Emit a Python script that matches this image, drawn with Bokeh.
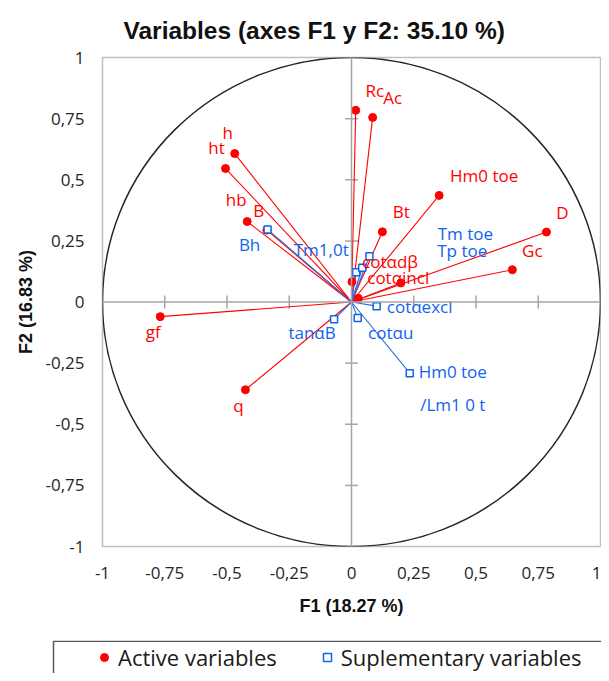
import math
from bokeh.plotting import figure
from bokeh.layouts import column
from bokeh.models import (Span, FixedTicker, CustomJSTickFormatter, Legend, LegendItem,
                          ColumnDataSource, Range1d)
from bokeh.embed import file_html
from bokeh.resources import INLINE
from bokeh.core.properties import value

# ---------------- data ----------------
active_names = ["Rc", "Ac", "h", "ht", "hb", "B", "Bt", "Hm0 toe", "D", "Gc",
                "gf", "q", "cotαdβ", "cotαincl", ""]
active_f1 = [0.017, 0.085, -0.469, -0.506, -0.419, -0.340, 0.124, 0.352, 0.783, 0.646,
             -0.768, -0.426, 0.002, 0.027, 0.198]
active_f2 = [0.784, 0.755, 0.607, 0.546, 0.329, 0.294, 0.287, 0.436, 0.286, 0.132,
             -0.060, -0.359, 0.083, 0.015, 0.078]

sup_names = ["Bh", "Tm1,0t", "Tm toe", "Tp toe", "cotαexcl", "tanαB", "cotαu",
             "Hm0 toe\n/Lm1 0 t"]
sup_f1 = [-0.337, 0.019, 0.072, 0.043, 0.101, -0.070, 0.025, 0.234]
sup_f2 = [0.297, 0.122, 0.187, 0.140, -0.017, -0.071, -0.065, -0.291]

tick_values = [-1, -0.75, -0.5, -0.25, 0, 0.25, 0.5, 0.75, 1]

title_text = "Variables (axes F1 y F2: 35.10 %)"
x_title = "F1 (18.27 %)"
y_title = "F2 (16.83 %)"
legend_labels = ["Active variables", "Suplementary variables"]

# ---------------- label placement (screen pixels, layout only) ----------------
active_dx = [19, 20, -7, -9, -11, -8, 19, 45, 16, 20, -7, -7, 38, 40, 0]
active_dy = [-20, -20, -21, -21, -22, -20, -20, -20, -20, -19, 15, 16, -20, -21, 0]
sup_dx = [-18, -35, 96, 100, 43, -22, 33, 43]
sup_dy = [15, -23, -23, -17, 0, 13, 15, 15]

RED = "#FF0000"
BLUE = "#0F63EE"
BLUE_LINE = "#2A6CE0"
LABEL_FONT = "Open Sans"
W = 601          # visible page width (609 window - 8px margin)
H_MAIN = 640
H_LEG = 33       # visible strip of the legend box

act = ColumnDataSource(dict(f1=active_f1, f2=active_f2, name=active_names,
                            dx=active_dx, dy=active_dy))
sup = ColumnDataSource(dict(f1=sup_f1, f2=sup_f2, name=sup_names,
                            dx=sup_dx, dy=sup_dy))

p = figure(width=W, height=H_MAIN, x_range=(-1, 1), y_range=(-1, 1),
           output_backend="svg", toolbar_location=None, tools="",
           min_border_left=102, min_border_right=1, min_border_top=56,
           min_border_bottom=94)

p.background_fill_color = "white"
p.border_fill_color = "white"
p.outline_line_color = "#BFBFBF"
p.outline_line_width = 1.5
p.grid.visible = False

# title
p.title.text = title_text
p.title.align = "left"
p.title.offset = 21
p.title.text_font = "Liberation Sans"
p.title.text_font_size = "24.5px"
p.title.text_font_style = "bold"
p.title.text_color = "#111111"
p.title.standoff = 28

# axes
for ax in (p.xaxis[0], p.yaxis[0]):
    ax.ticker = FixedTicker(ticks=tick_values)
    ax.formatter = CustomJSTickFormatter(code="return tick.toString().replace('.', ',');")
    ax.axis_line_color = None
    ax.major_tick_line_color = None
    ax.minor_tick_line_color = None
    ax.major_tick_out = 0
    ax.major_tick_in = 0
    ax.major_label_text_font = LABEL_FONT
    ax.major_label_text_font_size = "17px"
    ax.major_label_text_color = "#262626"
    ax.axis_label_text_font = "Liberation Sans"
    ax.axis_label_text_font_size = "18px"
    ax.axis_label_text_font_style = "bold"
    ax.axis_label_text_color = "#111111"

p.xaxis.axis_label = x_title
p.yaxis.axis_label = y_title
p.xaxis.major_label_standoff = 20
p.yaxis.major_label_standoff = 18
p.xaxis.axis_label_standoff = 14
p.yaxis.axis_label_standoff = 6

# center axes with cross ticks
p.add_layout(Span(location=0, dimension="height", line_color="#A6A6A6", line_width=1.5))
p.add_layout(Span(location=0, dimension="width", line_color="#A6A6A6", line_width=1.5))
inner_ticks = [t for t in tick_values if t not in (-1, 0, 1)]
p.scatter(x=[0] * len(inner_ticks), y=inner_ticks, marker="dash", size=13,
          line_color="#A6A6A6", line_width=1.5)
p.scatter(x=inner_ticks, y=[0] * len(inner_ticks), marker="dash", size=13,
          angle=math.pi / 2, line_color="#A6A6A6", line_width=1.5)

# correlation circle
p.ellipse(x=0, y=0, width=2, height=2, fill_color=None,
          line_color="#262626", line_width=1.5)

# vectors
p.segment(x0=0, y0=0, x1="f1", y1="f2", source=act, line_color=RED, line_width=1.1)
p.segment(x0=0, y0=0, x1="f1", y1="f2", source=sup, line_color=BLUE_LINE, line_width=1.1)

p.scatter(x="f1", y="f2", source=act, marker="circle", size=8,
          fill_color=RED, line_color=RED)
p.scatter(x="f1", y="f2", source=sup, marker="square", size=7,
          fill_color="white", line_color=BLUE, line_width=1.5)

p.text(x="f1", y="f2", text="name", source=act, x_offset="dx", y_offset="dy",
       text_align="center", text_baseline="middle", text_color=RED,
       text_font=value(LABEL_FONT), text_font_size="17px")
p.text(x="f1", y="f2", text="name", source=sup, x_offset="dx", y_offset="dy",
       text_align="center", text_baseline="middle", text_color=BLUE,
       text_font=value(LABEL_FONT), text_font_size="17px", text_line_height=1.45)

# ---------------- legend strip (box runs past the window edge, as in the reference) ----------------
lg = figure(width=W, height=H_LEG, x_range=Range1d(0, W), y_range=Range1d(H_LEG, 0),
            output_backend="svg", toolbar_location=None, tools="",
            x_axis_location=None, y_axis_location=None,
            min_border=0, min_border_left=0, min_border_right=0,
            min_border_top=0, min_border_bottom=0)
lg.grid.visible = False
lg.outline_line_color = None
lg.background_fill_color = "white"
lg.border_fill_color = "white"
for fig in (p, lg):
    if "frame_align" in fig.properties():
        fig.frame_align = False

# legend frame (drawn in the strip's pixel space)
lg.quad(left=[53], right=[W + 100], top=[0.75], bottom=[H_LEG + 100], fill_color=None,
        line_color="#595959", line_width=1.5)
# legend keys: same styled markers, renderers hidden in the strip
la = lg.scatter(x="f1", y="f2", source=act, marker="circle", size=8,
                fill_color=RED, line_color=RED, visible=False)
ls = lg.scatter(x="f1", y="f2", source=sup, marker="square", size=7,
                fill_color="white", line_color=BLUE, line_width=1.5, visible=False)
legend = Legend(items=[LegendItem(label=legend_labels[0], renderers=[la]),
                       LegendItem(label=legend_labels[1], renderers=[ls])],
                orientation="horizontal", location=(94, 1),
                padding=0, margin=0, spacing=40, glyph_width=20, glyph_height=20,
                label_standoff=4, border_line_color=None, background_fill_alpha=0,
                inactive_fill_alpha=0,
                label_text_font=LABEL_FONT, label_text_font_size="22px",
                label_text_color="#1A1A1A")
lg.add_layout(legend)

layout = column(p, lg, spacing=0)
open("out.html", "w").write(file_html(layout, INLINE))
